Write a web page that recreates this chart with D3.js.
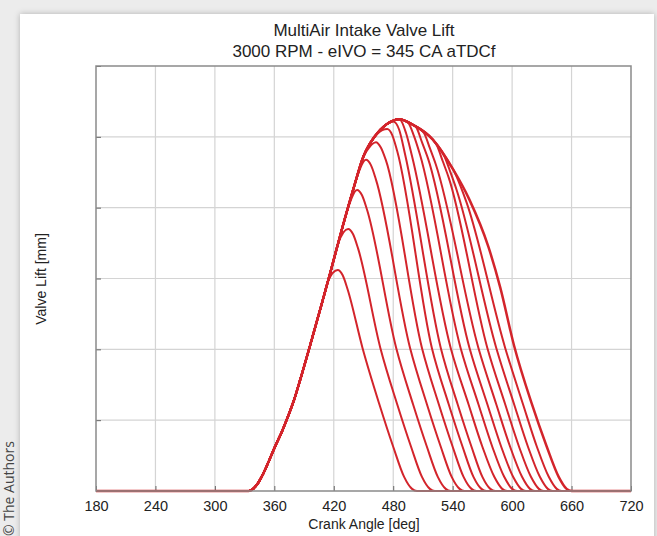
<!DOCTYPE html>
<html>
<head>
<meta charset="utf-8">
<script src="https://cdn.jsdelivr.net/npm/d3@7"></script>
<style>
body { margin:0; background:#ececec; font-family:"Liberation Sans", Arial, sans-serif; }
#wrap { position:relative; width:657px; height:536px; overflow:hidden; }
#card { position:absolute; left:20px; top:14px; width:634px; height:530px; background:#fff; box-shadow:0 0 6px rgba(0,0,0,0.25); }
#credit { position:absolute; left:-1px; top:536px; transform-origin:0 0; transform:rotate(-90deg); font-family:"Open Sans", sans-serif; font-size:14px; color:#444; white-space:nowrap; line-height:20px; }
svg { position:absolute; left:0; top:0; }
</style>
</head>
<body>
<div id="wrap">
<div id="card"></div>
<div id="credit">© The Authors</div>
<svg id="chart" width="657" height="536"></svg>
</div>
<script>
// crank angle ticks and lift gridlines
const xTicks = [180, 240, 300, 360, 420, 480, 540, 600, 660, 720];
const yTicks = [0, 2, 4, 6, 8, 10, 12];

// full cam profile [crank deg, lift mm]
const mainLift = [[180,0],[334,0],[338,0.05],[343,0.2],[349,0.5],[355,0.88],[361,1.27],[368,1.7],[374,2.12],
  [380,2.58],[386,3.13],[398,4.3],[409,5.4],[417,6.22],[428,7.37],[440,8.55],[450,9.45],[461,10.0],[473,10.35],
  [486,10.5],[500,10.34],[520,9.92],[540,9.1],[557,8.22],[576,6.9],[588,5.75],[602,4.1],[620,2.45],[635,1.25],
  [647,0.4],[655,0.06],[660,0],[720,0]];

// early closing curves: first point sits on the full profile
const eivc1 = [[414,5.91],[424,6.24],[429,6.09],[434,5.69],[449,4.04],[466,2.45],[480,1.25],[491,0.4],[499,0.06],[504,0]];
const eivc2 = [[424.5,7.0],[434.5,7.4],[439.5,7.25],[444.5,6.85],[467,4.04],[484,2.45],[498,1.25],[509,0.4],[517,0.06],[522,0]];
const eivc3 = [[433.5,7.91],[443.5,8.5],[448.5,8.35],[453.5,7.95],[483,4.04],[500,2.45],[514,1.25],[525,0.4],[533,0.06],[538,0]];
const eivc4 = [[442.5,8.78],[452.5,9.35],[457.5,9.2],[462.5,8.8],[497,4.04],[514,2.45],[528,1.25],[539,0.4],[547,0.06],[552,0]];
const eivc5 = [[452.5,9.57],[462.5,9.85],[467.5,9.7],[472.5,9.35],[509,4.04],[526,2.45],[540,1.25],[551,0.4],[559,0.06],[564,0]];
const eivc6 = [[464,10.09],[474,10.22],[479,10.05],[484,9.6],[519,4.04],[536,2.45],[550,1.25],[561,0.4],[569,0.06],[574,0]];
const eivc7 = [[480,10.43],[486,10.2],[492,9.5],[528,4.04],[545,2.45],[559,1.25],[570,0.4],[578,0.06],[583,0]];
const eivc8 = [[487,10.49],[493,10.1],[499,9.45],[538,4.04],[556,2.45],[570,1.25],[582,0.4],[590,0.06],[595,0]];
const eivc9 = [[495,10.4],[501,10.02],[507,9.5],[548,4.04],[566,2.45],[580,1.25],[592,0.4],[600,0.06],[605,0]];
const eivc10 = [[503,10.28],[509,9.85],[515,9.4],[557,4.04],[575,2.45],[589,1.25],[601,0.4],[609,0.06],[614,0]];
const eivc11 = [[511,10.11],[517,9.68],[523,9.22],[566,4.04],[584,2.45],[598,1.25],[610,0.4],[618,0.06],[623,0]];
const eivc12 = [[524,9.76],[530,9.31],[536,8.85],[575,4.04],[593,2.45],[607,1.25],[619,0.4],[627,0.06],[632,0]];
const eivc13 = [[532,9.43],[538,8.98],[544,8.5],[584,4.04],[602,2.45],[616,1.25],[628,0.4],[636,0.06],[641,0]];
const eivc14 = [[542,9.0],[548,8.6],[554,8.15],[593,4.04],[611,2.45],[625,1.25],[637,0.4],[645,0.06],[650,0]];

const closings = [eivc1, eivc2, eivc3, eivc4, eivc5, eivc6, eivc7, eivc8, eivc9, eivc10, eivc11, eivc12, eivc13, eivc14];

const svg = d3.select("#chart");
const margin = {top: 66, right: 26, bottom: 45, left: 96};
const width = 657, height = 536;

const x = d3.scaleLinear().domain([180, 720]).range([margin.left, width - margin.right]);
const y = d3.scaleLinear().domain([0, 12]).range([height - margin.bottom, margin.top]);

// grid
svg.append("g").selectAll("line.vg")
  .data(xTicks.slice(1, -1)).enter().append("line")
  .attr("x1", d => x(d)).attr("x2", d => x(d))
  .attr("y1", y(12)).attr("y2", y(0))
  .attr("stroke", "#d4d4d4").attr("stroke-width", 1.2);
svg.append("g").selectAll("line.hg")
  .data(yTicks.slice(1, -1)).enter().append("line")
  .attr("x1", x(180)).attr("x2", x(720))
  .attr("y1", d => y(d)).attr("y2", d => y(d))
  .attr("stroke", "#d4d4d4").attr("stroke-width", 1.2);

// axes with inward ticks
svg.append("g")
  .attr("transform", `translate(0,${y(0)})`)
  .call(d3.axisBottom(x).tickValues(xTicks).tickSize(-5).tickPadding(10))
  .call(g => g.select(".domain").remove())
  .call(g => g.selectAll("line").attr("stroke", "#666"))
  .call(g => g.selectAll("text").attr("font-size", 14.5).attr("fill", "#222")
    .attr("font-family", "Liberation Sans, Arial, sans-serif"));

svg.append("g")
  .attr("transform", `translate(${x(180)},0)`)
  .call(d3.axisLeft(y).tickValues(yTicks).tickSize(-5).tickFormat(""))
  .call(g => g.select(".domain").remove())
  .call(g => g.selectAll("line").attr("stroke", "#666"));

// curves
const line = d3.line()
  .x(d => x(d[0])).y(d => y(d[1]))
  .curve(d3.curveMonotoneX);

// rise along the full profile, then the closing branch, then flat to 720
const fullPath = c => mainLift.filter(p => p[0] < c[0][0]).concat(c, [[720, 0]]);

svg.append("g").selectAll("path.eivc")
  .data(closings).enter().append("path")
  .attr("d", d => line(fullPath(d)))
  .attr("fill", "none")
  .attr("stroke", "#d3242b")
  .attr("stroke-width", 2)
  .attr("stroke-linejoin", "round");

svg.append("path")
  .attr("d", line(mainLift))
  .attr("fill", "none")
  .attr("stroke", "#d3242b")
  .attr("stroke-width", 2.5);

// frame
svg.append("rect")
  .attr("x", x(180)).attr("y", y(12))
  .attr("width", x(720) - x(180)).attr("height", y(0) - y(12))
  .attr("fill", "none").attr("stroke", "#8a8a8a").attr("stroke-width", 1.5);

// titles
svg.append("text").attr("x", 364).attr("y", 36).attr("text-anchor", "middle")
  .attr("font-size", 17).attr("fill", "#222").text("MultiAir Intake Valve Lift");
svg.append("text").attr("x", 364).attr("y", 57).attr("text-anchor", "middle")
  .attr("font-size", 17).attr("fill", "#222").text("3000 RPM - eIVO = 345 CA aTDCf");
svg.append("text").attr("x", 364).attr("y", 529).attr("text-anchor", "middle")
  .attr("font-size", 14).attr("fill", "#222").text("Crank Angle [deg]");
svg.append("text").attr("transform", "translate(46,279) rotate(-90)").attr("text-anchor", "middle")
  .attr("font-size", 14).attr("fill", "#222").text("Valve Lift [mm]");
</script>
</body>
</html>
